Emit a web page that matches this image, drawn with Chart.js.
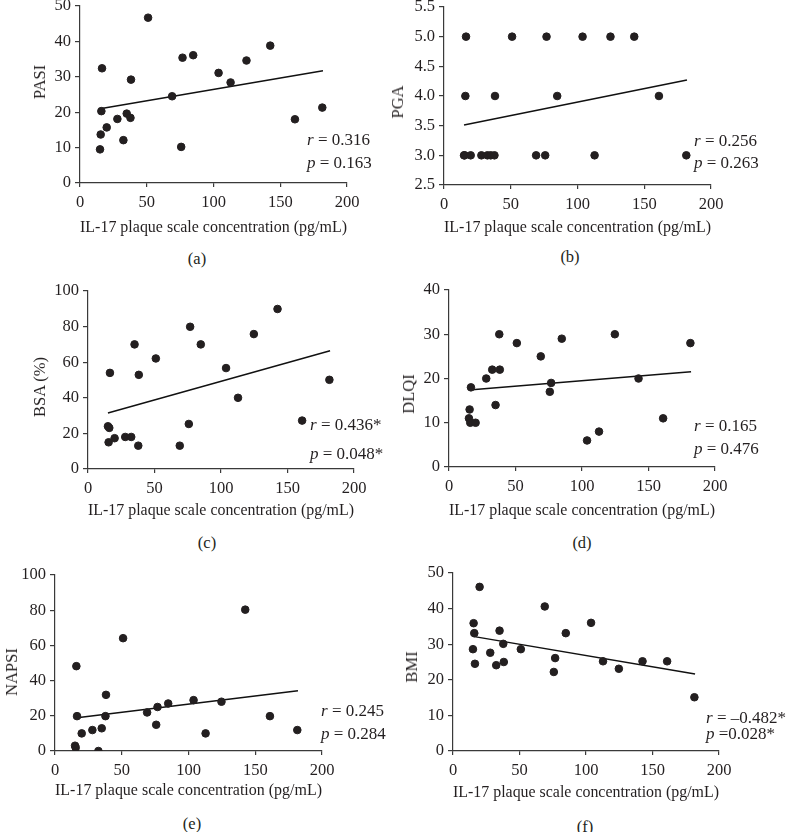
<!DOCTYPE html>
<html>
<head>
<meta charset="utf-8">
<script src="https://cdn.jsdelivr.net/npm/chart.js@4.4.1/dist/chart.umd.min.js"></script>
<style>
  html, body { margin: 0; padding: 0; background: #fff; }
  #fig { position: relative; width: 787px; height: 832px; overflow: hidden;
         font-family: "Liberation Serif", "DejaVu Serif", serif; color: #231f20; }
  #fig canvas { position: absolute; }
  .lbl { position: absolute; font-size: 16.5px; white-space: nowrap; transform: translate(-50%, -50%); }
  .ytl { position: absolute; font-size: 16.5px; white-space: nowrap; transform: translate(-50%, -50%) rotate(-90deg); }
  .stat { position: absolute; font-size: 17px; white-space: nowrap; line-height: 1; }
</style>
</head>
<body>
<div id="fig"></div>
<script>
// IL-17 plaque scale concentration (pg/mL), same patients in every panel
const il17 = [15, 15.5, 16, 16.5, 20, 28, 32.5, 35, 37.8, 38.2, 51, 69, 75.8, 76.8, 84.8, 103.8, 112.8, 124.7, 142.5, 161, 181.5];

// clinical scores, same order as il17
const pasi  = [9.5, 13.7, 20.3, 32.4, 15.7, 18.1, 12.1, 19.6, 18.4, 29.2, 46.7, 24.5, 10.2, 35.4, 36.1, 31.1, 28.4, 34.6, 38.8, 18.0, 21.3];
const pga   = [3, 3, 4, 5, 3, 3, 3, 3, 3, 4, 5, 3, 3, 5, 4, 5, 3, 5, 5, 4, 3];
const bsa   = [24.0, 15.0, 23.1, 54, 17.3, 18, 18, 70, 13.1, 52.9, 62.1, 13.1, 25.3, 79.9, 70, 56.7, 40, 75.8, 89.9, 27.2, 50.1];
const dlqi  = [11, 13, 10, 18, 10, 20, 22, 14, 30, 22, 28, 25, 17, 19, 29, 6, 8, 30, 20, 11, 28];
const napsi = [3.0, 1.9, 48.2, 19.8, 10, 11.9, 0, 12.9, 19.8, 31.9, 64.1, 21.9, 14.9, 25.0, 27.0, 28.9, 10, 28, 80.3, 19.8, 11.9];
const bmi   = [28.6, 35.9, 33.1, 24.5, 46.1, 27.6, 24.1, 33.8, 30.1, 25.0, 28.6, 40.6, 22.2, 26.1, 33.1, 36.0, 25.2, 23.1, 25.2, 25.2, 15.1];

// regression line end points
const fitX     = [15, 182];
const pasiFit  = [21.0, 31.7];
const pgaFit   = [3.51, 4.27];
const bsaFit   = [31.5, 66.4];
const dlqiFit  = [17.4, 21.5];
const napsiFit = [18.7, 34.2];
const bmiFit   = [32.2, 21.6];

// axis ticks
const xTicks     = [0, 50, 100, 150, 200];
const pasiTicks  = [0, 10, 20, 30, 40, 50];
const pgaTicks   = [2.5, 3.0, 3.5, 4.0, 4.5, 5.0, 5.5];
const bsaTicks   = [0, 20, 40, 60, 80, 100];
const dlqiTicks  = [0, 10, 20, 30, 40];
const napsiTicks = [0, 20, 40, 60, 80, 100];
const bmiTicks   = [0, 10, 20, 30, 40, 50];

const xTitle = 'IL-17 plaque scale concentration (pg/mL)';
const yTitles = ['PASI', 'PGA', 'BSA (%)', 'DLQI', 'NAPSI', 'BMI'];
const panelLabels = ['(a)', '(b)', '(c)', '(d)', '(e)', '(f)'];
const rTexts = ['0.316', '0.256', '0.436*', '0.165', '0.245', '\u20130.482*'];
const pTexts = ['= 0.163', '= 0.263', '= 0.048*', '= 0.476', '= 0.284', '=0.028*'];

const panels = [
  { y: pasi,  fit: pasiFit,  ticks: pasiTicks,  dec: 0 },
  { y: pga,   fit: pgaFit,   ticks: pgaTicks,   dec: 1 },
  { y: bsa,   fit: bsaFit,   ticks: bsaTicks,   dec: 0 },
  { y: dlqi,  fit: dlqiFit,  ticks: dlqiTicks,  dec: 0 },
  { y: napsi, fit: napsiFit, ticks: napsiTicks, dec: 0 },
  { y: bmi,   fit: bmiFit,   ticks: bmiTicks,   dec: 0 }
];

// page layout (pixels): plot area, title spots, label and r/p text spots
const layout = [
  { L: 80,  R: 347, T: 6,   B: 183, yTitleX: 40,  yTitleY: 82,  xTitleY: 228, labX: 197, labY: 259, statX: 307, rY: 139, pY: 162 },
  { L: 444, R: 711, T: 7,   B: 185, yTitleX: 398, yTitleY: 102, xTitleY: 228, labX: 570, labY: 257, statX: 694, rY: 140, pY: 162 },
  { L: 88,  R: 354, T: 291, B: 469, yTitleX: 40,  yTitleY: 387, xTitleY: 511, labX: 207, labY: 543, statX: 310, rY: 424, pY: 453 },
  { L: 449, R: 715, T: 290, B: 467, yTitleX: 409, yTitleY: 394, xTitleY: 511, labX: 582, labY: 543, statX: 694, rY: 425, pY: 448 },
  { L: 55,  R: 322, T: 575, B: 751, yTitleX: 12,  yTitleY: 672, xTitleY: 791, labX: 192, labY: 824, statX: 321, rY: 710, pY: 733 },
  { L: 453, R: 719, T: 573, B: 751, yTitleX: 412, yTitleY: 667, xTitleY: 793, labX: 585, labY: 827, statX: 706, rY: 717, pY: 733 }
];

const ink = '#231f20';
const axisColor = '#3a3a3a';
const fontFamily = '"Liberation Serif", "DejaVu Serif", serif';
const fontSize = 16.5;
const lineH = Math.round(fontSize * 1.2);

const fig = document.getElementById('fig');

function addText(cls, x, y, html) {
  const d = document.createElement('div');
  d.className = cls;
  d.style.left = x + 'px';
  d.style.top = y + 'px';
  d.innerHTML = html;
  fig.appendChild(d);
}

panels.forEach((p, i) => {
  const g = layout[i];
  // canvas covers the plot plus its axes
  const cx = i % 2 === 0 ? 0 : 392;
  const cy = g.T - 20;
  const cw = i % 2 === 0 ? 392 : 395;
  const ch = g.xTitleY + lineH / 2 + 2 - cy;

  const canvas = document.createElement('canvas');
  canvas.style.left = cx + 'px';
  canvas.style.top = cy + 'px';
  canvas.style.width = cw + 'px';
  canvas.style.height = ch + 'px';
  canvas.width = cw;
  canvas.height = ch;
  fig.appendChild(canvas);

  const yAxisW = g.L - cx;
  const xAxisH = g.xTitleY + lineH / 2 - g.B;

  new Chart(canvas.getContext('2d'), {
    type: 'scatter',
    data: {
      datasets: [{
        data: il17.map((x, k) => ({ x: x, y: p.y[k] })),
        backgroundColor: ink,
        borderColor: ink,
        pointRadius: 3.8,
        pointHoverRadius: 3.8
      }, {
        type: 'line',
        data: fitX.map((x, k) => ({ x: x, y: p.fit[k] })),
        borderColor: '#111',
        borderWidth: 1.5,
        pointRadius: 0,
        fill: false
      }]
    },
    options: {
      responsive: false,
      animation: false,
      devicePixelRatio: 1,
      layout: {
        padding: { left: 0, top: g.T - cy, right: cx + cw - g.R, bottom: ch - (g.B - cy) - xAxisH }
      },
      plugins: { legend: { display: false }, tooltip: { enabled: false } },
      scales: {
        x: {
          type: 'linear',
          min: xTicks[0],
          max: xTicks[xTicks.length - 1],
          afterBuildTicks: axis => { axis.ticks = xTicks.map(v => ({ value: v })); },
          afterFit: axis => { axis.height = xAxisH; },
          grid: { drawOnChartArea: false, drawTicks: true, tickLength: 4, color: axisColor, lineWidth: 1.2 },
          border: { display: true, color: axisColor, width: 1.2 },
          ticks: { color: ink, padding: 6, maxRotation: 0, font: { family: fontFamily, size: fontSize } },
          title: {
            display: true, text: xTitle, color: ink,
            padding: { top: 0, bottom: 0 },
            font: { family: fontFamily, size: fontSize }
          }
        },
        y: {
          type: 'linear',
          min: p.ticks[0],
          max: p.ticks[p.ticks.length - 1],
          afterBuildTicks: axis => { axis.ticks = p.ticks.map(v => ({ value: v })); },
          afterFit: axis => { axis.width = yAxisW; },
          grid: { drawOnChartArea: false, drawTicks: true, tickLength: 5, color: axisColor, lineWidth: 1.2 },
          border: { display: true, color: axisColor, width: 1.2 },
          ticks: {
            color: ink, padding: 4,
            font: { family: fontFamily, size: fontSize },
            callback: v => v.toFixed(p.dec)
          },
          title: { display: false }
        }
      }
    }
  });

  addText('ytl', g.yTitleX, g.yTitleY, yTitles[i]);
  addText('lbl', g.labX, g.labY, panelLabels[i]);
  addText('stat', g.statX, g.rY - 8, '<i>r</i> = ' + rTexts[i]);
  addText('stat', g.statX, g.pY - 8, '<i>p</i> ' + pTexts[i]);
});
</script>
</body>
</html>
